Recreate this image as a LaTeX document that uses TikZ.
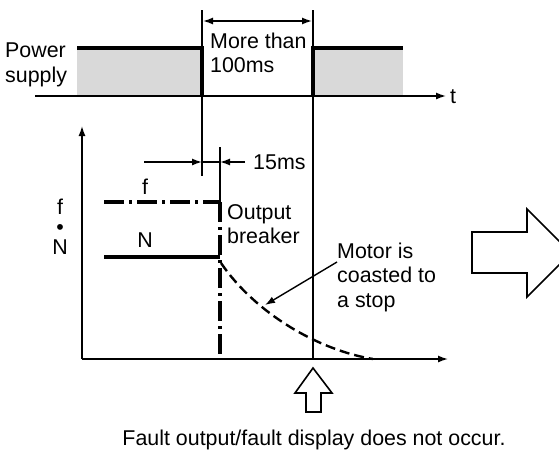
\documentclass[tikz,border=0pt]{standalone}
\usepackage{fontspec}
\setmainfont{Liberation Sans}
\usetikzlibrary{arrows.meta}
\begin{document}
\begin{tikzpicture}[x=1pt,y=-1pt,
  txt/.style={inner sep=0pt,font=\fontsize{21.4}{24.5}\selectfont},
  thin/.style={line width=1.4pt},
  thickl/.style={line width=3.4pt},
  dimarrow/.style={thin,-{Latex[length=10pt,width=7pt]}},
  dashdotl/.style={thickl,dash pattern=on 20pt off 5pt on 3pt off 5pt},
  dashedl/.style={line width=2.4pt,dash pattern=on 10pt off 5pt},
  bigarrow/.style={draw,line width=1.6pt,fill=white},
  shade/.style={fill=black!15}]
\useasboundingbox (0,0) rectangle (559,450);
\clip (0,0) rectangle (559,450);
\fill[white] (0,0) rectangle (559,450);
% ---------- power supply timing ----------
\coordinate (ta0) at (35,96);
\coordinate (ta1) at (446,96);
\fill[shade] (77,48) rectangle (202,96);
\fill[shade] (313,48) rectangle (403,96);
\draw[dimarrow] (ta0) -- (ta1);
\draw[thickl] (77,48) -- (202,48) -- (202,96);
\draw[thickl] (313,96) -- (313,48) -- (403,48);
\coordinate (v1t) at (202,10);
\coordinate (v1b) at (202,176);
\coordinate (v2t) at (313,10);
\coordinate (v2b) at (313,359);
\draw[thin] (v1t) -- (v1b);
\draw[thin] (v2t) -- (v2b);
\coordinate (d1) at (203,21);
\coordinate (d2) at (312,21);
\draw[thin,{Latex[length=10pt,width=7pt]}-{Latex[length=10pt,width=7pt]}] (d1) -- (d2);
\node[txt,anchor=west,align=left] (pw) at (5,65) {Power\\supply};
\node[txt,anchor=west,align=left] (mt) at (210,53) {More than\\100ms};
\node[txt] (t) at (453,97) {t};
% ---------- f / N graph ----------
\coordinate (o) at (82,359);
\coordinate (ytop) at (82,126);
\coordinate (xend) at (448,359);
\draw[dimarrow] (o) -- (ytop);
\draw[dimarrow] (o) -- (xend);
\coordinate (bt) at (220,147);
\coordinate (bf) at (220,202);
\coordinate (bb) at (220,359);
\draw[thin] (bt) -- (bf);
% 15 ms dimension
\coordinate (a1s) at (144,162);
\coordinate (a1e) at (202,162);
\coordinate (a2s) at (245,162);
\coordinate (a2e) at (220,162);
\draw[dimarrow] (a1s) -- (a1e);
\draw[thin] (a1e) -- (a2e);
\draw[dimarrow] (a2s) -- (a2e);
\node[txt,anchor=west] (ms) at (253,162) {15ms};
% f and N levels
\coordinate (f0) at (104,202);
\coordinate (n0) at (104,257);
\coordinate (n1) at (220,257);
\draw[dashdotl] (f0) -- (bf);
\draw[dashdotl] (bf) -- (bb);
\draw[thickl] (n0) -- (n1);
\node[txt] (fl) at (145,187) {f};
\node[txt] (nl) at (145,240) {N};
\node[txt,align=center,font=\fontsize{21.4}{20}\selectfont] (fn) at (60,227) {f\\\textbullet\\N};
\node[txt,anchor=west,align=left] (ob) at (227,224) {Output\\breaker};
% coasting curve
\coordinate (c0) at (221,263);
\coordinate (c1) at (373,359);
\draw[dashedl] (c0) .. controls (255,313) and (318,350) .. (c1);
\node[txt,anchor=west,align=left] (mo) at (337,277) {Motor is\\coasted to\\a stop};
\coordinate (ms0) at (337,262);
\coordinate (ms1) at (265,305);
\draw[thin,-{Latex[length=10pt,width=7pt]}] (ms0) -- (ms1);
% ---------- hollow arrows ----------
\draw[bigarrow] (472,232) -- (527,232) -- (527,209) -- (571,253) -- (527,297) -- (527,273) -- (472,273) -- cycle;
\draw[bigarrow] (313,368) -- (332,393) -- (321,393) -- (321,412) -- (306,412) -- (306,393) -- (295,393) -- cycle;
\node[txt] (fault) at (314,440) {Fault output/fault display does not occur.};
\end{tikzpicture}
\end{document}
